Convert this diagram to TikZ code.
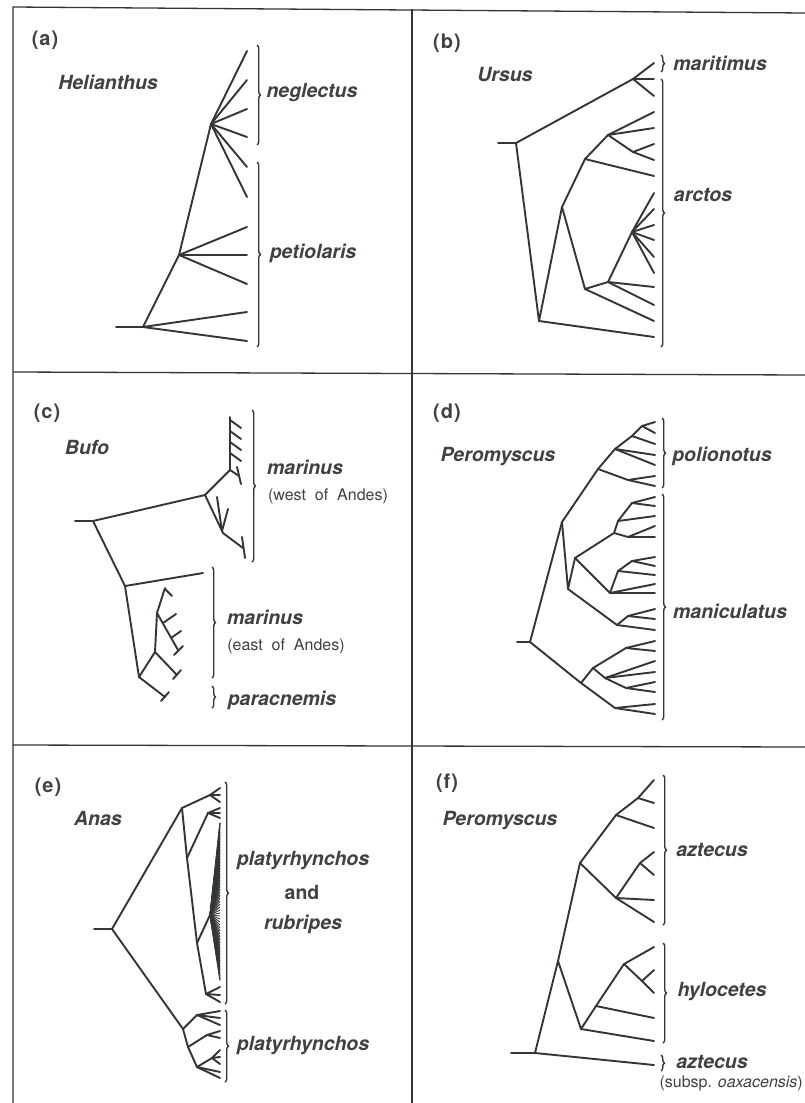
\documentclass[tikz,border=0pt]{standalone}
\usepackage{fontspec}
\setmainfont{TeX Gyre Heros}
\usetikzlibrary{decorations.pathreplacing}
\definecolor{ink}{RGB}{50,54,52}
\definecolor{txt}{RGB}{62,66,64}
\newcommand{\leaves}[3]{\foreach \yy in {#3} {\draw[tree] (#1) -- (#2,\yy) coordinate (#1t\yy);}}
\begin{document}
\begin{tikzpicture}[x=1pt,y=-1pt,
 tree/.style={draw=ink,line width=1.9pt,line cap=round,line join=round},
 hair/.style={draw=ink,line width=0.9pt},
 frame/.style={draw=ink,line width=1.3pt},
 br/.style={draw=ink,line width=1.4pt,decorate,decoration={brace,amplitude=3.5pt}},
 sp/.style={text=txt,inner sep=0pt,font=\fontsize{19.5}{21}\selectfont\bfseries\itshape},
 up/.style={text=txt,inner sep=0pt,font=\fontsize{19.5}{21}\selectfont\bfseries},
 pl/.style={text=txt,inner sep=0pt,font=\fontsize{20}{22}\selectfont\bfseries},
 note/.style={text=txt,inner sep=0pt,font=\fontsize{16}{18}\selectfont}]
\useasboundingbox (0,0) rectangle (805,1103);
\fill[white] (0,0) rectangle (805,1103);
% frame
\draw[frame] (13,1103) -- (13,7) -- (805,13);
\draw[frame] (412,9) -- (412,1103);
\draw[frame] (13,372) -- (805,375);
\draw[frame] (13,745) -- (805,747);

% ---------- (a) ----------
\node[pl] (la) at (45,40) {(\kern1pt a\kern1pt)};
\node[sp] (ga) at (108,82) {Helianthus};
\coordinate (a0) at (116,327);
\coordinate (aR) at (143,327);
\coordinate (aP) at (179,255);
\coordinate (aN) at (211,124);
\draw[tree] (a0) -- (aR) -- (aP) -- (aN);
\leaves{aN}{247}{51,80,109,137,167,197}
\leaves{aP}{247}{227,255,284}
\leaves{aR}{247}{312,341}
\draw[br] (257,45) -- (257,145);
\draw[br] (257,162) -- (257,347);
\node[sp] (sneg) at (312,93) {neglectus};
\node[sp] (spet) at (313,253) {petiolaris};

% ---------- (b) ----------
\node[pl] (lb) at (447,43) {(\kern1pt b\kern1pt)};
\node[sp] (gb) at (505,75) {Ursus};
\coordinate (b0) at (498,143);
\coordinate (bR) at (516,143);
\coordinate (bM) at (633,79);
\coordinate (bB) at (539,321);
\coordinate (bC) at (562,207);
\coordinate (bD) at (585,159);
\coordinate (bE) at (608,135);
\coordinate (bF) at (633,152);
\coordinate (bG) at (585,289);
\coordinate (bH) at (608,282);
\coordinate (bI) at (632,232);
\draw[tree] (b0) -- (bR) -- (bM);
\draw[tree] (bR) -- (bB) -- (bC) -- (bD) -- (bE) -- (bF);
\draw[tree] (bC) -- (bG) -- (bH) -- (bI);
\leaves{bM}{654}{63,79,96}
\leaves{bE}{654}{112,128}
\leaves{bF}{654}{144,160}
\leaves{bD}{654}{176}
\leaves{bI}{654}{193,209,225,240,257,273}
\leaves{bH}{654}{287,305}
\leaves{bG}{654}{321}
\leaves{bB}{654}{337}
\draw[br] (661,55) -- (661,72);
\draw[br] (661,79) -- (661,347);
\node[sp] (smar) at (720,63) {maritimus};
\node[sp] (sarc) at (703,195) {arctos};

% ---------- (c) ----------
\node[pl] (lc) at (47,413) {(\kern1pt c\kern1pt)};
\node[sp] (gc) at (87,447) {Bufo};
\coordinate (c0) at (75,521);
\coordinate (cR) at (93,521);
\coordinate (cW) at (205,495);
\coordinate (cW1) at (230,470);
\coordinate (cS) at (230,417);
\coordinate (cL) at (223,533);
\coordinate (cM) at (243,548);
\coordinate (cE) at (125,586);
\coordinate (cF) at (139,677);
\coordinate (cG) at (155,652);
\coordinate (cH) at (157,613);
\coordinate (cHt) at (165,588);
\coordinate (cK) at (178,650);
\coordinate (cGt) at (177,675);
\coordinate (cFt) at (165,697);
\draw[tree] (c0) -- (cR) -- (cW) -- (cW1) -- (cS);
\draw[tree] (cW) -- (cL) -- (cM);
\foreach \yy in {420,431,442,453} {\draw[tree] (230,\yy) -- (241,\yy+8);}
\draw[tree] (cW1) -- (239,476);
\draw[tree] (237,467) -- (241,484);
\draw[tree] (242,537) -- (245,558);
\draw[tree] (222,531) -- (217,497);
\draw[tree] (222,531) -- (228,509);
\draw[tree] (cR) -- (cE) -- (203,573) coordinate (cEt);
\draw[tree] (cE) -- (cF) -- (cG) -- (cH) -- (cHt);
\draw[tree] (165,589) -- (172,596);
\draw[tree] (cH) -- (cK);
\draw[tree] (163,623) -- (176,614);
\draw[tree] (171,638) -- (181,631);
\draw[tree] (174,655) -- (183,646);
\draw[tree] (cG) -- (cGt);
\draw[tree] (173,679) -- (181,670);
\draw[tree] (cF) -- (cFt);
\draw[tree] (161,701) -- (169,692);
\draw[br] (252,410) -- (252,562);
\draw[br] (212,567) -- (212,678);
\draw[br] (212,686) -- (212,708);
\node[sp] (smw) at (305,467) {marinus};
\node[note] (nw) at (328,496) {(west\ \ of\ \ Andes)};
\node[sp] (sme) at (265,617) {marinus};
\node[note] (ne) at (286,646) {(east\ \ of\ \ Andes)};
\node[sp] (spar) at (282,700) {paracnemis};

% ---------- (d) ----------
\node[pl] (ld) at (447,413) {(\kern1pt d\kern1pt)};
\node[sp] (gd) at (498,457) {Peromyscus};
\coordinate (d0) at (517,642);
\coordinate (dR) at (530,642);
\coordinate (dA) at (562,522);
\coordinate (dP) at (598,469);
\coordinate (dQ) at (615,449);
\coordinate (dT) at (632,436);
\coordinate (dU) at (642,426);
\coordinate (dP2) at (628,480);
\coordinate (dC) at (568,589);
\coordinate (dD) at (575,558);
\coordinate (dE) at (617,625);
\coordinate (dEa) at (628,616);
\coordinate (dF) at (614,533);
\coordinate (dFa) at (618,521);
\coordinate (dFb) at (632,503);
\coordinate (dFc) at (628,537);
\coordinate (dG) at (610,593);
\coordinate (dGa) at (618,571);
\coordinate (dGb) at (632,561);
\coordinate (dB) at (581,683);
\coordinate (dB1) at (593,668);
\coordinate (dB1a) at (626,648);
\coordinate (dB1b) at (605,678);
\coordinate (dB1c) at (626,688);
\coordinate (dB2) at (615,708);
\draw[tree] (d0) -- (dR) -- (dA) -- (dP) -- (dQ) -- (dT) -- (dU);
\draw[tree] (dP) -- (dP2);
\draw[tree] (dA) -- (dC) -- (dD) -- (dF) -- (dFa) -- (dFb);
\draw[tree] (dF) -- (dFc);
\draw[tree] (dD) -- (dG) -- (dGa) -- (dGb);
\draw[tree] (dC) -- (dE) -- (dEa);
\draw[tree] (dR) -- (dB) -- (dB1) -- (dB1a);
\draw[tree] (dB1) -- (dB1b) -- (dB1c);
\draw[tree] (dB) -- (dB2);
\leaves{dU}{655}{422,433}
\leaves{dT}{655}{444}
\leaves{dQ}{655}{455,465}
\leaves{dP2}{655}{476,486}
\leaves{dFb}{655}{497,506}
\leaves{dFa}{655}{516}
\leaves{dFc}{655}{526,537}
\leaves{dGb}{655}{557,566}
\leaves{dGa}{655}{575}
\leaves{dG}{655}{584,593}
\leaves{dEa}{655}{609,619}
\leaves{dE}{655}{630}
\leaves{dB1a}{655}{641,651}
\leaves{dB1b}{655}{661,672}
\leaves{dB1c}{655}{682,692}
\leaves{dB2}{655}{704,714}
\draw[br] (662,418) -- (662,488);
\draw[br] (662,494) -- (662,720);
\node[sp] (spol) at (722,456) {polionotus};
\node[sp] (sman) at (730,611) {maniculatus};

% ---------- (e) ----------
\node[pl] (le) at (48,787) {(\kern1pt e\kern1pt)};
\node[sp] (ge) at (98,818) {Anas};
\coordinate (e0) at (94,929);
\coordinate (eR) at (112,929);
\coordinate (eA) at (182,808);
\coordinate (eA1) at (210,795);
\coordinate (eC) at (187,858);
\coordinate (eC1) at (208,813);
\coordinate (eD) at (197,943);
\coordinate (eX) at (210,915);
\coordinate (eA2) at (206,994);
\coordinate (eB) at (183,1029);
\coordinate (eB1) at (197,1015);
\coordinate (eB2) at (188,1047);
\coordinate (eB3) at (207,1035);
\coordinate (eB4) at (197,1067);
\coordinate (eB5) at (212,1058);
\draw[tree] (e0) -- (eR) -- (eA) -- (eA1);
\draw[tree] (eA) -- (eC) -- (eD) -- (eA2);
\draw[tree] (eC) -- (eC1);
\draw[tree] (eD) -- (eX);
\draw[tree] (eR) -- (eB) -- (eB1);
\draw[tree] (eB) -- (eB2) -- (eB3);
\draw[tree] (eB2) -- (eB4) -- (eB5);
\foreach \yy in {823,826,...,980} {\draw[hair] (eX) -- (220,\yy);}
\draw[tree,line width=1.2pt] (eX) -- (220,823);
\draw[tree,line width=1.2pt] (eX) -- (220,980);
\leaves{eA1}{220}{788,795,802}
\leaves{eC1}{220}{808,813,818}
\leaves{eA2}{220}{987,995,1002}
\leaves{eB1}{220}{1011,1018,1025}
\leaves{eB3}{220}{1031,1038}
\leaves{eB5}{220}{1050,1057,1064}
\leaves{eB4}{220}{1072,1078}
\draw[br] (225,782) -- (225,1004);
\draw[br] (225,1010) -- (225,1082);
\node[sp] (spla) at (303,861) {platyrhynchos};
\node[up] (sand) at (302,892) {and};
\node[sp] (srub) at (303,924) {rubripes};
\node[sp] (splb) at (303,1046) {platyrhynchos};

% ---------- (f) ----------
\node[pl] (lf) at (447,783) {(\kern1pt f\kern1pt)};
\node[sp] (gf) at (500,821) {Peromyscus};
\coordinate (f0) at (511,1053);
\coordinate (fR) at (535,1053);
\coordinate (fA) at (558,961);
\coordinate (fT) at (580,863);
\coordinate (fU) at (616,815);
\coordinate (fV) at (638,798);
\coordinate (fW) at (616,898);
\coordinate (fW1) at (640,863);
\coordinate (fB) at (581,1029);
\coordinate (fN1) at (596,1006);
\coordinate (fC) at (624,964);
\coordinate (fC1) at (642,981);
\draw[tree] (f0) -- (fR) -- (fA) -- (fT) -- (fU) -- (fV);
\draw[tree] (fT) -- (fW) -- (fW1);
\draw[tree] (fA) -- (fB) -- (fN1) -- (fC) -- (fC1);
\leaves{fR}{654}{1065}
\leaves{fV}{654}{780,803}
\leaves{fU}{654}{828}
\leaves{fW1}{654}{852,875}
\leaves{fW}{654}{900,922}
\leaves{fC}{654}{947}
\leaves{fC1}{654}{970,993}
\leaves{fN1}{654}{1018}
\leaves{fB}{654}{1041}
\draw[br] (663,775) -- (663,925);
\draw[br] (663,943) -- (663,1043);
\draw[br] (661,1055) -- (661,1071);
\node[sp] (saz1) at (712,850) {aztecus};
\node[sp] (shyl) at (722,992) {hylocetes};
\node[sp] (saz2) at (712,1062) {aztecus};
\node[note,anchor=east] (noax) at (803,1083) {(subsp. \textit{oaxacensis})};
\end{tikzpicture}
\end{document}
